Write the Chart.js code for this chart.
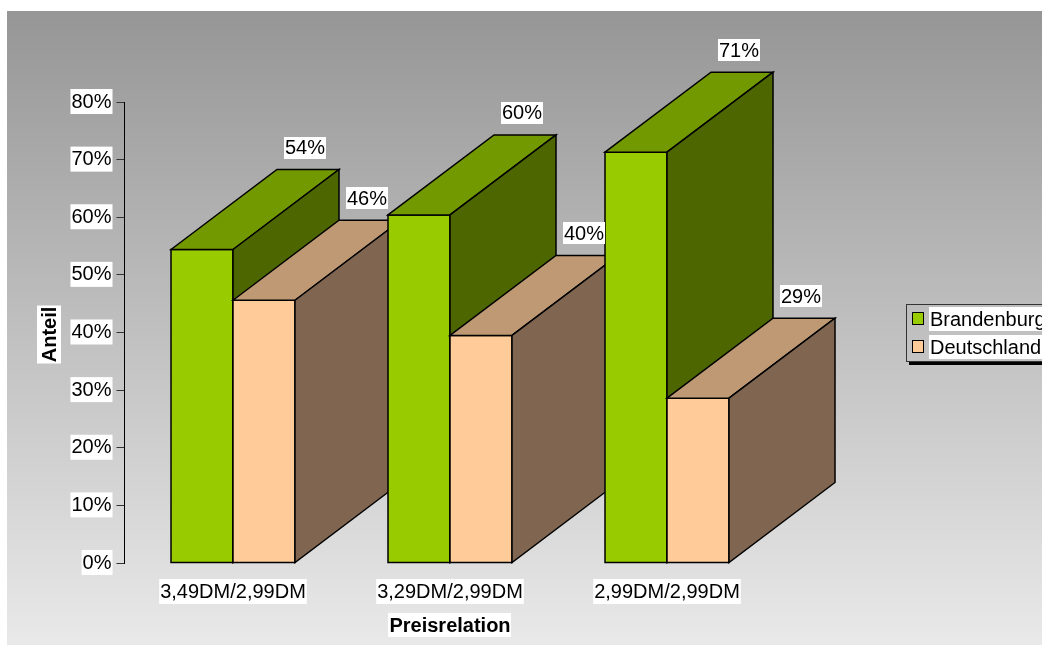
<!DOCTYPE html>
<html>
<head>
<meta charset="utf-8">
<script src="https://cdn.jsdelivr.net/npm/chart.js@4.4.1/dist/chart.umd.min.js"></script>
<style>
html,body{margin:0;padding:0;background:#fff;}
#wrap{width:1042px;height:645px;position:relative;}
</style>
</head>
<body>
<div id="wrap"><canvas id="c"></canvas></div>
<script>
// ---- data ----
const categories = ['3,49DM/2,99DM', '3,29DM/2,99DM', '2,99DM/2,99DM'];
const seriesNames = ['Brandenburg', 'Deutschland'];
const brandenburg = [54.4, 60.4, 71.3];
const deutschland = [45.6, 39.5, 28.6];
const yTickStep = 10;
const yMax = 80;
const xTitle = 'Preisrelation';
const yTitle = 'Anteil';

// ---- styles ----
const FONT = '"Liberation Sans", Arial, sans-serif';
const FS = 20;
const faces = [
  {front: '#99CC00', top: '#739900', side: '#4D6600'},
  {front: '#FFCC99', top: '#BF9973', side: '#806650'}
];
const DEPTH_X = 106, DEPTH_Y = -80;

function labelBox(ctx, text, cx, cy, bold, padX, padY) {
  ctx.save();
  ctx.font = (bold ? 'bold ' : '') + FS + 'px ' + FONT;
  const w = ctx.measureText(text).width;
  const h = FS + 2;
  ctx.fillStyle = '#fff';
  ctx.fillRect(Math.round(cx - w / 2 - padX), Math.round(cy - h / 2 - padY), Math.round(w + 2 * padX), Math.round(h + 2 * padY));
  ctx.fillStyle = '#000';
  ctx.textAlign = 'center';
  ctx.textBaseline = 'middle';
  ctx.fillText(text, cx, cy + 1);
  ctx.restore();
}

const threeD = {
  id: 'threeD',
  beforeDraw(chart) {
    const ctx = chart.ctx;
    const g = ctx.createLinearGradient(0, 11, 0, 645);
    g.addColorStop(0, '#969696');
    g.addColorStop(1, '#e9e9e9');
    ctx.save();
    ctx.fillStyle = '#fff';
    ctx.fillRect(0, 0, chart.width, chart.height);
    ctx.fillStyle = g;
    ctx.fillRect(7, 11, chart.width - 7, 634);
    ctx.restore();
  },
  beforeDatasetsDraw(chart) {
    const ctx = chart.ctx;
    const n = chart.data.labels.length;
    const metas = chart.data.datasets.map((d, i) => chart.getDatasetMeta(i));
    ctx.save();
    ctx.lineWidth = 1.5;
    ctx.strokeStyle = '#000';
    ctx.lineJoin = 'miter';
    const poly = (pts, fill) => {
      ctx.beginPath();
      ctx.moveTo(pts[0][0], pts[0][1]);
      for (let k = 1; k < pts.length; k++) ctx.lineTo(pts[k][0], pts[k][1]);
      ctx.closePath();
      ctx.fillStyle = fill;
      ctx.fill();
      ctx.stroke();
    };
    const labels = [];
    for (let i = 0; i < n; i++) {
      metas.forEach((meta, d) => {
        const el = meta.data[i];
        const p = el.getProps(['x', 'y', 'base', 'width'], true);
        const l = p.x - p.width / 2, r = p.x + p.width / 2, t = p.y, b = p.base;
        const f = faces[d];
        poly([[l, t], [r, t], [r, b], [l, b]], f.front);
        poly([[l, t], [l + DEPTH_X, t + DEPTH_Y], [r + DEPTH_X, t + DEPTH_Y], [r, t]], f.top);
        poly([[r, t], [r + DEPTH_X, t + DEPTH_Y], [r + DEPTH_X, b + DEPTH_Y], [r, b]], f.side);
        const v = chart.data.datasets[d].data[i];
        labels.push({text: Math.round(v) + '%', x: p.x + DEPTH_X - 3, y: t + DEPTH_Y - 22});
      });
    }
    ctx.restore();
    labels.forEach(L => labelBox(ctx, L.text, L.x, L.y, false, 1, 0));
    return false;
  },
  afterDraw(chart) {
    const ctx = chart.ctx;
    const ca = chart.chartArea;
    // x axis title
    labelBox(ctx, xTitle, (ca.left + ca.right) / 2, 625, true, 1, 1);
    // y axis title
    ctx.save();
    ctx.translate(49, (ca.top + ca.bottom) / 2 + 2);
    ctx.rotate(-Math.PI / 2);
    labelBox(ctx, yTitle, 0, 0, true, 1, 1);
    ctx.restore();
    // legend
    ctx.save();
    ctx.fillStyle = '#000';
    ctx.fillRect(909, 362, 140, 3);
    ctx.strokeStyle = '#333';
    ctx.lineWidth = 1;
    ctx.strokeRect(906.5, 304.5, 140, 57);
    ctx.font = FS + 'px ' + FONT;
    chart.data.datasets.forEach((ds, d) => {
      const cy = d === 0 ? 319 : 347;
      ctx.fillStyle = faces[d].front;
      ctx.fillRect(912, cy - 7, 12, 13);
      ctx.strokeStyle = '#000';
      ctx.lineWidth = 1;
      ctx.strokeRect(912.5, cy - 6.5, 11, 12);
      ctx.fillStyle = '#fff';
      ctx.fillRect(929, cy - 12, 120, 24);
      ctx.fillStyle = '#000';
      ctx.textAlign = 'left';
      ctx.textBaseline = 'middle';
      ctx.fillText(ds.label, 930, cy + 1);
    });
    ctx.restore();
  }
};

new Chart(document.getElementById('c'), {
  type: 'bar',
  data: {
    labels: categories,
    datasets: [
      {label: seriesNames[0], data: brandenburg, backgroundColor: faces[0].front},
      {label: seriesNames[1], data: deutschland, backgroundColor: faces[1].front}
    ]
  },
  options: {
    responsive: true,
    maintainAspectRatio: false,
    animation: false,
    devicePixelRatio: 1,
    categoryPercentage: 124 / 217,
    barPercentage: 1,
    layout: {padding: {left: 0, top: 102, right: 266.5, bottom: 0}},
    plugins: {legend: {display: false}, tooltip: {enabled: false}},
    scales: {
      x: {
        grid: {display: false, drawTicks: false},
        border: {display: false},
        ticks: {
          color: '#000',
          font: {family: FONT, size: FS},
          padding: 17,
          maxRotation: 0,
          autoSkip: false,
          showLabelBackdrop: true,
          backdropColor: '#fff',
          backdropPadding: {top: 1, bottom: 0, left: 1, right: 1}
        },
        afterFit(s) { s.height = 645 - 563; }
      },
      y: {
        min: 0,
        max: yMax,
        grid: {drawOnChartArea: false, drawTicks: true, tickLength: 8, color: '#333', lineWidth: 1},
        border: {display: true, color: '#000', width: 1},
        ticks: {
          stepSize: yTickStep,
          color: '#000',
          font: {family: FONT, size: FS},
          padding: 5,
          callback: v => v + '%',
          showLabelBackdrop: true,
          backdropColor: '#fff',
          backdropPadding: {top: 1, bottom: 0, left: 1, right: 1}
        },
        afterFit(s) { s.width = 124.5; }
      }
    }
  },
  plugins: [threeD]
});
</script>
</body>
</html>
